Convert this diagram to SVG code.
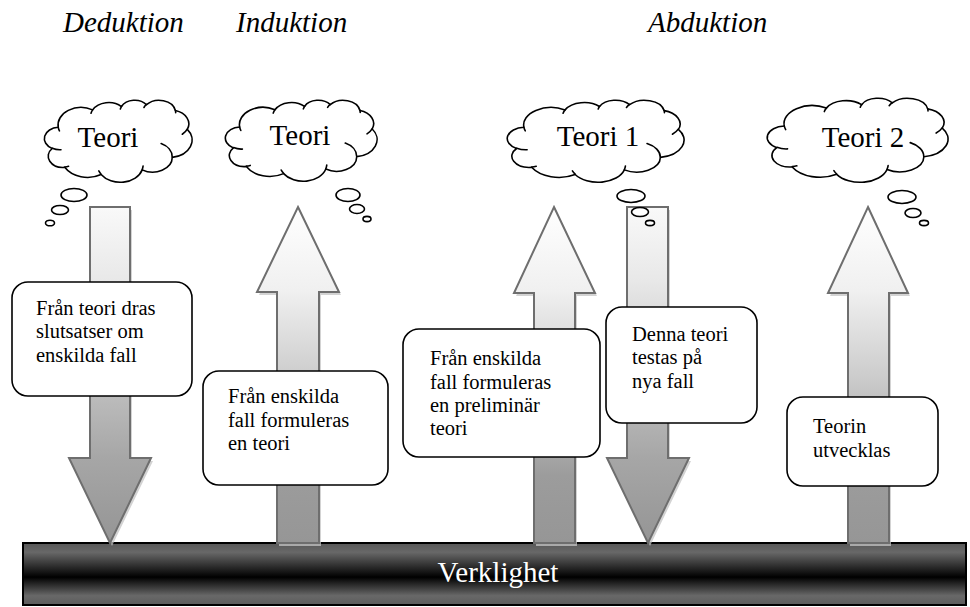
<svg xmlns="http://www.w3.org/2000/svg" width="970" height="607" viewBox="0 0 970 607">
  <style>
    .head { font-family: "Liberation Serif", "Times New Roman", serif; font-style: italic; font-size: 29px; fill: #000; }
    .cloudtxt { font-family: "Liberation Serif", "Times New Roman", serif; font-size: 29px; fill: #000; text-anchor: middle; }
    .body { font-family: "Liberation Serif", "Times New Roman", serif; font-size: 20.5px; fill: #000; }
    .bartxt { font-family: "Liberation Serif", "Times New Roman", serif; font-size: 29px; fill: #fff; text-anchor: middle; }
    .cloud { fill: #fff; stroke: #000; stroke-width: 1.6; stroke-linejoin: round; }
    .crease { fill: none; stroke: #000; stroke-width: 1.6; stroke-linecap: round; }
    .bubble { fill: #fff; stroke: #000; stroke-width: 1.6; }
    .box { fill: #fff; stroke: #000; stroke-width: 1.6; }
    .down { fill: url(#gDown); stroke: #6e6e6e; stroke-width: 2; }
    .up { fill: url(#gUp); stroke: #6e6e6e; stroke-width: 2; }
    .shadow { fill: #c4c4c4; opacity: 0.75; }
  </style>
  <defs>
    <linearGradient id="gDown" x1="0" y1="0" x2="0" y2="1">
      <stop offset="0" stop-color="#f9f9f9"/>
      <stop offset="0.22" stop-color="#e8e8e8"/>
      <stop offset="0.56" stop-color="#bcbcbc"/>
      <stop offset="0.75" stop-color="#a6a6a6"/>
      <stop offset="1" stop-color="#959595"/>
    </linearGradient>
    <linearGradient id="gUp" x1="0" y1="0" x2="0" y2="1">
      <stop offset="0" stop-color="#ffffff"/>
      <stop offset="0.25" stop-color="#f0f0f0"/>
      <stop offset="0.5" stop-color="#cdcdcd"/>
      <stop offset="0.8" stop-color="#9c9c9c"/>
      <stop offset="1" stop-color="#969696"/>
    </linearGradient>
    <linearGradient id="gBar" x1="0" y1="0" x2="0" y2="1">
      <stop offset="0" stop-color="#585858"/>
      <stop offset="0.15" stop-color="#686868"/>
      <stop offset="0.55" stop-color="#000000"/>
      <stop offset="0.85" stop-color="#686868"/>
      <stop offset="1" stop-color="#5c5c5c"/>
    </linearGradient>
    <!-- cloud outline, 43200 x 43200 units -->
    <path id="cloudShape" vector-effect="non-scaling-stroke" d="M3900,14370 A6753,9190 0 0 1 14006,5203 A5333,7267 0 0 1 22457,3433 A4365,5945 0 0 1 29836,2483 A4857,6595 0 0 1 38320,5580 A5333,7273 0 0 1 41821,15463 A6775,9220 0 0 1 37406,30206 A5785,7867 0 0 1 28558,36816 A6752,9215 0 0 1 16483,39267 A7720,10543 0 0 1 5807,35472 A4360,5918 0 0 1 2114,25552 A4345,5945 0 0 1 3900,14370 Z"/>
    <!-- inner folds of the cloud -->
    <path id="cloudCreases" vector-effect="non-scaling-stroke" d="M4693,26177 A4345,5945 0 0 1 2160,25380 M6928,34899 A4360,5918 0 0 1 5819,35281 M16478,39090 A6752,9215 0 0 1 15810,37349 M28827,34751 A6752,9215 0 0 1 28560,36661 M34129,22954 A5785,7867 0 0 1 37380,30090 M41798,15354 A5333,7273 0 0 1 40350,18030 M38324,5426 A4857,6595 0 0 1 38400,6690 M29078,3952 A4857,6595 0 0 1 29820,2340 M22141,4720 A4365,5945 0 0 1 22500,3330 M13520,6976 A5333,7267 0 0 1 14006,5203 M4245,16275 A6753,9190 0 0 1 3900,14370"/>
  </defs>

  <rect width="970" height="607" fill="#fff"/>

  <!-- headings -->
  <g id="headings">
    <text class="head" x="63" y="32">Deduktion</text>
    <text class="head" x="236" y="32">Induktion</text>
    <text class="head" x="648" y="32">Abduktion</text>
  </g>

  <!-- reality bar -->
  <g id="verklighet">
    <rect x="23" y="543" width="943" height="62" fill="url(#gBar)" stroke="#000" stroke-width="2"/>
    <text class="bartxt" x="498" y="582">Verklighet</text>
  </g>

  <!-- arrows -->
  <g id="connectors">
    <polygon class="shadow" transform="translate(2,3)" points="90,207 130,207 130,458 151,458 110,543 69,458 90,458"/>
    <polygon class="down" points="90,207 130,207 130,458 151,458 110,543 69,458 90,458"/>

    <polygon class="shadow" transform="translate(2,3)" points="298,207 339,292 319,292 319,543 277,543 277,292 257,292"/>
    <polygon class="up" points="298,207 339,292 319,292 319,543 277,543 277,292 257,292"/>

    <polygon class="shadow" transform="translate(2,3)" points="554,207 595,293 575,293 575,543 534,543 534,293 514,293"/>
    <polygon class="up" points="554,207 595,293 575,293 575,543 534,543 534,293 514,293"/>

    <polygon class="shadow" transform="translate(2,3)" points="627,207 668,207 668,458 689,458 648,543 607,458 627,458"/>
    <polygon class="down" points="627,207 668,207 668,458 689,458 648,543 607,458 627,458"/>

    <polygon class="shadow" transform="translate(2,3)" points="868,207 908,293 889,293 889,543 848,543 848,293 828,293"/>
    <polygon class="up" points="868,207 908,293 889,293 889,543 848,543 848,293 828,293"/>
  </g>

  <!-- text boxes -->
  <g id="box-deduktion">
    <rect class="box" x="12" y="282" width="180" height="114" rx="16"/>
    <text class="body" x="36" y="315">Från teori dras</text>
    <text class="body" x="36" y="338">slutsatser om</text>
    <text class="body" x="36" y="362">enskilda fall</text>
  </g>
  <g id="box-induktion">
    <rect class="box" x="203" y="371" width="185" height="114" rx="16"/>
    <text class="body" x="228" y="403">Från enskilda</text>
    <text class="body" x="228" y="427">fall formuleras</text>
    <text class="body" x="228" y="450">en teori</text>
  </g>
  <g id="box-abduktion-1">
    <rect class="box" x="403" y="329" width="197" height="128" rx="16"/>
    <text class="body" x="430" y="365">Från enskilda</text>
    <text class="body" x="430" y="389">fall formuleras</text>
    <text class="body" x="430" y="412">en preliminär</text>
    <text class="body" x="430" y="435">teori</text>
  </g>
  <g id="box-abduktion-2">
    <rect class="box" x="606" y="307" width="151" height="116" rx="16"/>
    <text class="body" x="632" y="341">Denna teori</text>
    <text class="body" x="632" y="364">testas på</text>
    <text class="body" x="632" y="388">nya fall</text>
  </g>
  <g id="box-abduktion-3">
    <rect class="box" x="787" y="397" width="151" height="89" rx="16"/>
    <text class="body" x="813" y="433">Teorin</text>
    <text class="body" x="813" y="457">utvecklas</text>
  </g>

  <!-- thought clouds -->
  <g id="cloud-deduktion">
    <g transform="translate(45,100) scale(0.003403,0.001898)">
      <use href="#cloudShape" class="cloud"/>
      <use href="#cloudCreases" class="crease"/>
    </g>
    <text class="cloudtxt" x="108" y="147">Teori</text>
    <ellipse class="bubble" cx="74" cy="195" rx="13" ry="6.5"/>
    <ellipse class="bubble" cx="60" cy="210" rx="8.5" ry="4.5"/>
    <ellipse class="bubble" cx="50" cy="223" rx="4.5" ry="2.8"/>
  </g>
  <g id="cloud-induktion">
    <g transform="translate(226,100) scale(0.003495,0.001875)">
      <use href="#cloudShape" class="cloud"/>
      <use href="#cloudCreases" class="crease"/>
    </g>
    <text class="cloudtxt" x="300" y="145">Teori</text>
    <ellipse class="bubble" cx="348" cy="195" rx="12" ry="6.5"/>
    <ellipse class="bubble" cx="357" cy="209" rx="7.5" ry="4.5"/>
    <ellipse class="bubble" cx="367" cy="219" rx="4" ry="2.6"/>
  </g>
  <g id="cloud-abduktion-1">
    <g transform="translate(508,100) scale(0.004074,0.001898)">
      <use href="#cloudShape" class="cloud"/>
      <use href="#cloudCreases" class="crease"/>
    </g>
    <text class="cloudtxt" x="598" y="146">Teori 1</text>
    <ellipse class="bubble" cx="631" cy="196" rx="14" ry="6.5"/>
    <ellipse class="bubble" cx="640" cy="212" rx="8.5" ry="4.5"/>
    <ellipse class="bubble" cx="650" cy="223" rx="4.5" ry="2.6"/>
  </g>
  <g id="cloud-abduktion-2">
    <g transform="translate(768,98) scale(0.004167,0.001944)">
      <use href="#cloudShape" class="cloud"/>
      <use href="#cloudCreases" class="crease"/>
    </g>
    <text class="cloudtxt" x="863" y="147">Teori 2</text>
    <ellipse class="bubble" cx="902" cy="197" rx="14" ry="6.5"/>
    <ellipse class="bubble" cx="913" cy="213" rx="8" ry="4.5"/>
    <ellipse class="bubble" cx="924" cy="223" rx="4.5" ry="2.6"/>
  </g>
</svg>
